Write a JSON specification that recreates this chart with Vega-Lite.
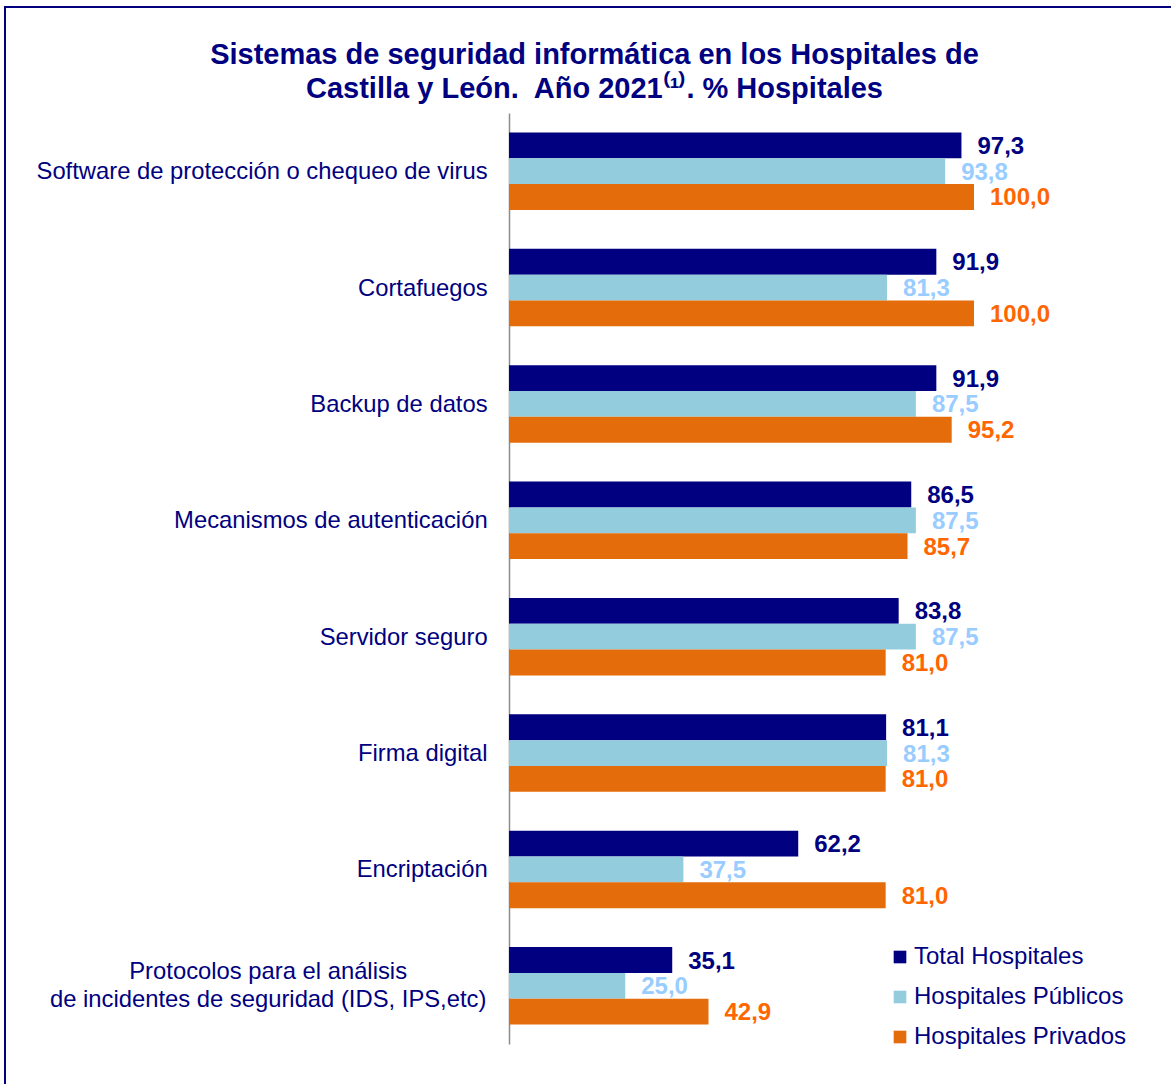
{
  "$schema": "https://vega.github.io/schema/vega-lite/v6.json",
  "autosize": {"type": "none"},
  "padding": {"left": 5, "top": 7, "right": -5, "bottom": -5},
  "width": 1171,
  "height": 1082,
  "background": "white",
  "config": {
    "view": {"stroke": "#000080", "strokeWidth": 2},
    "font": "Liberation Sans",
    "locale": {"number": {"decimal": ",", "thousands": ".", "grouping": [3], "currency": ["", " €"]}}
  },
  "title": {
    "text": ["Sistemas de seguridad informática en los Hospitales de", "Castilla y León.\u00a0 Año 2021⁽¹⁾. % Hospitales"],
    "anchor": "middle",
    "offset": -97,
    "dx": 4,
    "fontSize": 29,
    "fontWeight": "bold",
    "font": "Liberation Sans",
    "color": "#000080",
    "lineHeight": 34
  },
  "data": {
    "values": [
      {"cat": "Software de protección o chequeo de virus", "serie": "Total Hospitales", "v": 97.3},
      {"cat": "Software de protección o chequeo de virus", "serie": "Hospitales Públicos", "v": 93.8},
      {"cat": "Software de protección o chequeo de virus", "serie": "Hospitales Privados", "v": 100.0},
      {"cat": "Cortafuegos", "serie": "Total Hospitales", "v": 91.9},
      {"cat": "Cortafuegos", "serie": "Hospitales Públicos", "v": 81.3},
      {"cat": "Cortafuegos", "serie": "Hospitales Privados", "v": 100.0},
      {"cat": "Backup de datos\u2002", "serie": "Total Hospitales", "v": 91.9},
      {"cat": "Backup de datos\u2002", "serie": "Hospitales Públicos", "v": 87.5},
      {"cat": "Backup de datos\u2002", "serie": "Hospitales Privados", "v": 95.2},
      {"cat": "Mecanismos de autenticación", "serie": "Total Hospitales", "v": 86.5},
      {"cat": "Mecanismos de autenticación", "serie": "Hospitales Públicos", "v": 87.5},
      {"cat": "Mecanismos de autenticación", "serie": "Hospitales Privados", "v": 85.7},
      {"cat": "Servidor seguro", "serie": "Total Hospitales", "v": 83.8},
      {"cat": "Servidor seguro", "serie": "Hospitales Públicos", "v": 87.5},
      {"cat": "Servidor seguro", "serie": "Hospitales Privados", "v": 81.0},
      {"cat": "Firma digital", "serie": "Total Hospitales", "v": 81.1},
      {"cat": "Firma digital", "serie": "Hospitales Públicos", "v": 81.3},
      {"cat": "Firma digital", "serie": "Hospitales Privados", "v": 81.0},
      {"cat": "Encriptación", "serie": "Total Hospitales", "v": 62.2},
      {"cat": "Encriptación", "serie": "Hospitales Públicos", "v": 37.5},
      {"cat": "Encriptación", "serie": "Hospitales Privados", "v": 81.0},
      {"cat": "Protocolos para el análisis\nde incidentes de seguridad (IDS, IPS,etc)", "serie": "Total Hospitales", "v": 35.1},
      {"cat": "Protocolos para el análisis\nde incidentes de seguridad (IDS, IPS,etc)", "serie": "Hospitales Públicos", "v": 25.0},
      {"cat": "Protocolos para el análisis\nde incidentes de seguridad (IDS, IPS,etc)", "serie": "Hospitales Privados", "v": 42.9}
    ]
  },
  "encoding": {
    "y": {
      "field": "cat", "type": "nominal", "sort": null,
      "scale": {"range": [106, 1037], "paddingInner": 0.335, "paddingOuter": 0.1675},
      "axis": {"orient": "left", "offset": -504, "title": null, "labels": false, "ticks": false, "grid": false, "domainColor": "#8c8c8c", "domainWidth": 1.5}
    }
  },
  "layer": [
    {
      "mark": {"type": "bar"},
      "encoding": {
        "x": {"field": "v", "type": "quantitative", "scale": {"domain": [-108.39, 143.44], "nice": false, "zero": false}, "axis": null},
        "yOffset": {"field": "serie", "type": "nominal", "sort": ["Total Hospitales", "Hospitales Públicos", "Hospitales Privados"], "scale": {"paddingInner": 0, "paddingOuter": 0}},
        "color": {
          "field": "serie", "type": "nominal",
          "scale": {"domain": ["Total Hospitales", "Hospitales Públicos", "Hospitales Privados"], "range": ["#000080", "#93CDDD", "#E46C0A"]},
          "legend": {
            "title": null, "orient": "none", "legendX": 883, "legendY": 938,
            "symbolType": "square", "symbolSize": 160, "symbolStrokeWidth": 0,
            "labelFontSize": 24, "labelColor": "#000080", "labelFont": "Liberation Sans",
            "labelOffset": 2, "rowPadding": 16, "labelLimit": 400
          }
        }
      }
    },
    {
      "mark": {"type": "text", "align": "left", "baseline": "middle", "dx": 16, "dy": 1.5, "fontSize": 24, "fontWeight": "bold", "font": "Liberation Sans"},
      "encoding": {
        "x": {"field": "v", "type": "quantitative"},
        "yOffset": {"field": "serie", "type": "nominal", "sort": ["Total Hospitales", "Hospitales Públicos", "Hospitales Privados"]},
        "text": {"field": "v", "type": "quantitative", "format": ".1f"},
        "color": {
          "field": "serie", "type": "nominal",
          "scale": {"domain": ["Total Hospitales", "Hospitales Públicos", "Hospitales Privados"], "range": ["#000080", "#99CCFF", "#FF6600"]},
          "legend": null
        }
      }
    },
    {
      "transform": [{"filter": "datum.serie == 'Total Hospitales' && indexof(datum.cat, 'Protocolos') < 0"}],
      "mark": {"type": "text", "align": "right", "baseline": "middle", "dy": 1, "fontSize": 23.8, "font": "Liberation Sans", "color": "#000080"},
      "encoding": {
        "x": {"datum": -4.6},
        "text": {"field": "cat"}
      }
    },
    {
      "transform": [{"filter": "datum.serie == 'Total Hospitales' && indexof(datum.cat, 'Protocolos') >= 0"}],
      "mark": {"type": "text", "align": "center", "baseline": "middle", "dy": -14, "fontSize": 23.8, "font": "Liberation Sans", "color": "#000080", "lineBreak": "\n", "lineHeight": 28},
      "encoding": {
        "x": {"datum": -51.8},
        "text": {"field": "cat"}
      }
    }
  ],
  "resolve": {"scale": {"color": "independent"}}
}
